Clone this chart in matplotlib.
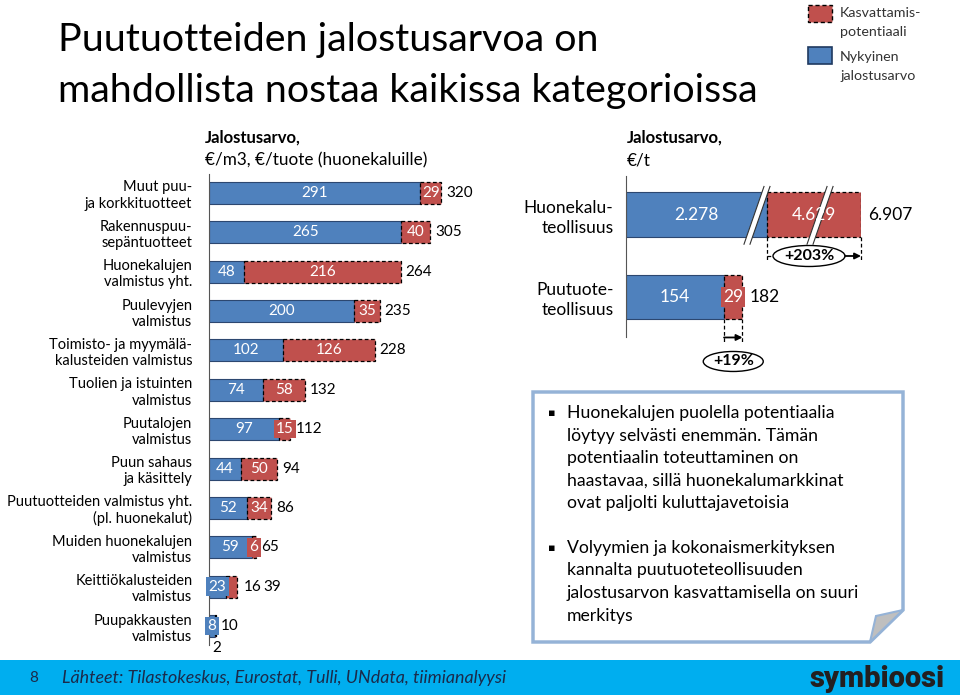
import numpy as np
import matplotlib.pyplot as plt
from matplotlib.patches import Rectangle, Polygon, Ellipse

plt.rcParams['font.family'] = ['Lato', 'DejaVu Sans']

BLUE = '#4F81BD'
RED = '#C0504D'
W, H = 960, 695

# left chart: value per m3 / per product
categories = ["Muut puu-\nja korkkituotteet", "Rakennuspuu-\nsepäntuotteet",
              "Huonekalujen\nvalmistus yht.", "Puulevyjen\nvalmistus",
              "Toimisto- ja myymälä-\nkalusteiden valmistus",
              "Tuolien ja istuinten\nvalmistus", "Puutalojen\nvalmistus",
              "Puun sahaus\nja käsittely",
              "Puutuotteiden valmistus yht.\n(pl. huonekalut)",
              "Muiden huonekalujen\nvalmistus", "Keittiökalusteiden\nvalmistus",
              "Puupakkausten\nvalmistus"]
current = [291, 265, 48, 200, 102, 74, 97, 44, 52, 59, 23, 8]
potential = [29, 40, 216, 35, 126, 58, 15, 50, 34, 6, 16, 2]
totals = [320, 305, 264, 235, 228, 132, 112, 94, 86, 65, 39, 10]

# right chart: value per tonne
industries = ["Huonekalu-\nteollisuus", "Puutuote-\nteollisuus"]
ind_current = [2278, 154]
ind_potential = [4629, 29]
ind_totals = [6907, 182]
ind_growth = ["+203%", "+19%"]

bullets = [["Huonekalujen puolella potentiaalia",
            "löytyy selvästi enemmän. Tämän",
            "potentiaalin toteuttaminen on",
            "haastavaa, sillä huonekalumarkkinat",
            "ovat paljolti kuluttajavetoisia"],
           ["Volyymien ja kokonaismerkityksen",
            "kannalta puutuoteteollisuuden",
            "jalostusarvon kasvattamisella on suuri",
            "merkitys"]]


def fmt(v):
    return f"{v:,}".replace(",", ".")


fig = plt.figure(figsize=(W / 100, H / 100), dpi=100)


def add_ax(left, top, width, height):
    return fig.add_axes([left / W, 1 - (top + height) / H, width / W, height / H])


bg = add_ax(0, 0, W, H)
bg.set_xlim(0, W)
bg.set_ylim(H, 0)
bg.axis('off')


def to_bg(a, x, y):
    return bg.transData.inverted().transform(a.transData.transform((x, y)))


# ---- left chart
ax = add_ax(209, 174, 0.726 * 450, 471)
ax.patch.set_alpha(0)
y = np.arange(len(categories))
ax.barh(y, current, height=0.56, color=BLUE, edgecolor='#2C4770', linewidth=0.8)
ax.barh(y, potential, left=current, height=0.56, color=RED, edgecolor='black',
        linewidth=0.9, linestyle=(0, (3, 2)))
ax.set_xlim(0, 450)
ax.set_ylim(11.48, -0.48)
ax.set_xticks([])
ax.set_yticks(y, categories, fontsize=10.5, linespacing=1.2)
ax.tick_params(axis='y', length=0, pad=12)
for s in ['top', 'right', 'bottom']:
    ax.spines[s].set_visible(False)
ax.spines['left'].set_color('#555555')

red_pos = ['in'] * 10 + ['right', 'below']
for i in range(len(categories)):
    c, p, t = current[i], potential[i], totals[i]
    box = dict(boxstyle='square,pad=0.15', fc=BLUE, ec='none') if c < 30 else None
    ax.text(c / 2, i, str(c), ha='center', va='center', color='white',
            fontsize=11, bbox=box)
    extra = 0
    if red_pos[i] == 'in':
        box = dict(boxstyle='square,pad=0.15', fc=RED, ec='none') if p < 20 else None
        ax.text(c + p / 2, i, str(p), ha='center', va='center', color='white',
                fontsize=11, bbox=box)
    elif red_pos[i] == 'right':
        ax.annotate(str(p), (c + p, i), xytext=(6, 0), textcoords='offset pixels',
                    ha='left', va='center', fontsize=11)
        extra = 21
    else:
        ax.annotate(str(p), (c + p, i), xytext=(0, -22), textcoords='offset pixels',
                    ha='center', va='center', fontsize=11)
    ax.annotate(str(t), (c + p, i), xytext=(5 + extra, 0), textcoords='offset pixels',
                ha='left', va='center', fontsize=11)

# ---- right chart, broken scale
knots_v = [0, 200, 2278, 6907, 20000]
knots_px = [0, 127.3, 141, 235, 300]


def fwd(v):
    return np.interp(v, knots_v, knots_px)


def inv(p):
    return np.interp(p, knots_px, knots_v)


axr = add_ax(626, 176, 235, 161)
axr.patch.set_alpha(0)
axr.set_xscale('function', functions=(fwd, inv))
axr.set_xlim(0, 6907)
axr.set_ylim(1.485, -0.467)
yr = np.arange(len(industries))
axr.barh(yr, ind_current, height=0.545, color=BLUE, edgecolor='#2C4770', linewidth=0.8)
axr.barh(yr, ind_potential, left=ind_current, height=0.545, color=RED,
         edgecolor='black', linewidth=0.9, linestyle=(0, (3, 2)))
axr.set_xticks([])
axr.set_yticks(yr, industries, fontsize=12.5, linespacing=1.3)
axr.tick_params(axis='y', length=0, pad=9)
for s in ['top', 'right', 'bottom']:
    axr.spines[s].set_visible(False)
axr.spines['left'].set_color('#555555')

# break marks on the long bar
break_at = [760, 4890]
for b in break_at:
    cpx = fwd(b)
    yb, yt = 0.36, -0.34
    axr.add_patch(Polygon([(inv(cpx - 13), yb), (inv(cpx - 7), yb),
                           (inv(cpx + 13), yt), (inv(cpx + 7), yt)],
                          closed=True, fc='white', ec='none', zorder=3))
    for d in (-3, 3):
        axr.plot([inv(cpx - 10 + d), inv(cpx + 10 + d)], [yb, yt],
                 color='#333333', lw=0.8, zorder=4)

for i in range(len(industries)):
    c, p, t = ind_current[i], ind_potential[i], ind_totals[i]
    axr.text(inv(fwd(c) / 2), i, fmt(c), ha='center', va='center', color='white',
             fontsize=12.5, zorder=5)
    narrow = fwd(c + p) - fwd(c) < 25
    box = dict(boxstyle='square,pad=0.1', fc=RED, ec='none') if narrow else None
    axr.text(inv((fwd(c) + fwd(c + p)) / 2), i, fmt(p), ha='center', va='center',
             color='white', fontsize=12.5, bbox=box, zorder=5)
    axr.annotate(fmt(t), (c + p, i), xytext=(7, 0), textcoords='offset pixels',
                 ha='left', va='center', fontsize=12.5)

# growth markers
for i in range(len(industries)):
    c, p = ind_current[i], ind_potential[i]
    x0 = to_bg(axr, c, i)[0]
    x1 = to_bg(axr, c + p, i)[0]
    ybot = to_bg(axr, c, i + 0.2725)[1]
    if i == 0:
        ya, ye, ew, eh, ex = ybot + 19, ybot + 19, 72, 21, x0 + 42
        bg.plot([x0, ex - ew / 2], [ya, ya], color='black', lw=0.9, ls=(0, (3, 2)))
        xs = ex + ew / 2
    else:
        ya, ye, ew, eh, ex = ybot + 18, ybot + 42, 60, 20, (x0 + x1) / 2
        xs = x0
    for xx in (x0, x1):
        bg.plot([xx, xx], [ybot, ybot + 24], color='black', lw=0.9, ls=(0, (3, 2)))
    bg.annotate('', xy=(x1, ya), xytext=(xs, ya),
                arrowprops=dict(arrowstyle='-|>', color='black', lw=1.3,
                                shrinkA=0, shrinkB=0, mutation_scale=9))
    bg.add_patch(Ellipse((ex, ye), ew, eh, fc='white', ec='black', lw=1))
    bg.text(ex, ye, ind_growth[i], ha='center', va='center', fontsize=11.5,
            fontweight='bold')

# ---- texts
bg.text(58, 40, "Puutuotteiden jalostusarvoa on", fontsize=28.4, va='center')
bg.text(58, 91, "mahdollista nostaa kaikissa kategorioissa", fontsize=28.4,
        va='center')

bg.text(205, 138, "Jalostusarvo,", fontsize=12, fontweight='bold', va='center')
bg.text(205, 160, "€/m3, €/tuote (huonekaluille)", fontsize=12.3, va='center')
bg.text(627, 138, "Jalostusarvo,", fontsize=12, fontweight='bold', va='center')
bg.text(627, 160, "€/t", fontsize=12.3, va='center')

# legend
bg.add_patch(Rectangle((808, 5), 24, 17, fc=RED, ec='black', lw=1, ls=(0, (3, 2))))
bg.add_patch(Rectangle((808, 47), 24, 17, fc=BLUE, ec='#1F3A60', lw=1.2))
bg.text(840, 13, "Kasvattamis-", fontsize=10.3, va='center', color='#333333')
bg.text(840, 32, "potentiaali", fontsize=10.3, va='center', color='#333333')
bg.text(840, 57, "Nykyinen", fontsize=10.3, va='center', color='#333333')
bg.text(840, 76, "jalostusarvo", fontsize=10.3, va='center', color='#333333')

# note box with folded corner
bg.add_patch(Polygon([(533, 392), (903, 392), (903, 610), (870, 642), (533, 642)],
                     closed=True, fc='white', ec='#95B3D7', lw=2.5))
bg.add_patch(Polygon([(903, 610), (876, 616), (870, 642)], closed=True,
                     fc='#BFBFBF', ec='#95B3D7', lw=1.5))
for k, (y0, lines) in enumerate(zip([413, 548], bullets)):
    bg.text(552, y0, "▪", fontsize=8, ha='center', va='center', family='DejaVu Sans')
    for j, line in enumerate(lines):
        bg.text(567, y0 + j * 22.5, line, fontsize=12.7, va='center')

# footer
bg.add_patch(Rectangle((0, 660), W, 35, fc='#00AEEF', ec='none'))
bg.text(34, 678, "8", fontsize=11, ha='center', va='center', color='#1B2A4A')
bg.text(62, 678, "Lähteet: Tilastokeskus, Eurostat, Tulli, UNdata, tiimianalyysi",
        fontsize=12.9, fontstyle='italic', va='center', color='#1B2A4A')
bg.text(945, 679, "symbioosi", fontsize=21, fontweight='black', ha='right',
        va='center', color='#231F20', family='Roboto')

fig.savefig('out.png', dpi=100)
